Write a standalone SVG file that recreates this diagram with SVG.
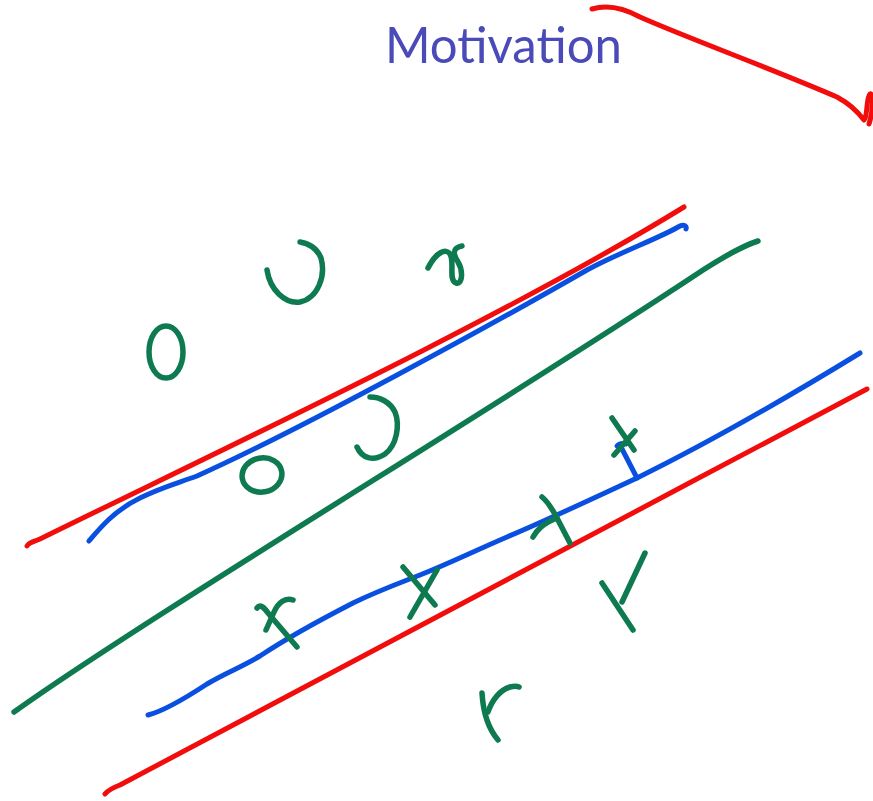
<svg xmlns="http://www.w3.org/2000/svg" width="873" height="801" viewBox="0 0 873 801">
<style>
.s{fill:none;stroke-linecap:round;stroke-linejoin:round}
.r{stroke:#f20d0d;stroke-width:5}
.b{stroke:#0a50e0;stroke-width:5}
.g{stroke:#0e7a50;stroke-width:5.5}
.t{font-family:"Lato","Liberation Sans",sans-serif;font-size:50px;fill:#4a4ab8}
</style>
<rect width="873" height="801" fill="#ffffff"/>
<g id="title"><text class="t" x="385" y="63" textLength="237" lengthAdjust="spacingAndGlyphs">Motivation</text></g>
<g id="strokes">
<path id="red-top" class="s r" d="M592,9 C605,5 620,6 640,17 C680,35 780,72 837,97 C850,104 858,112 864,120 C868,116 866,97 870,94 C874,92 873,112 869,124"/>
<path id="red-upper" class="s r" d="M27,546 C29,542 33,542 40,539 C200,460 500,320 684,207"/>
<path id="blue-upper" class="s b" d="M89,541 C100,528 115,510 140,498 C160,488 175,484 197,476 C300,430 500,320 587,270 C620,252 660,238 680,226 C684,224 687,226 686,229"/>
<path id="green-line" class="s g" d="M14,712 C150,615 500,405 703,270 C725,256 745,245 758,241"/>
<path id="blue-lower" class="s b" d="M148,715 C160,712 175,705 207,684 C225,673 240,668 260,656 C290,636 320,620 353,603 C380,590 400,583 420,575 C450,563 470,553 507,537 C540,523 590,500 637,478 C700,447 780,402 860,353"/>
<path id="red-lower" class="s r" d="M105,794 C108,790 112,788 120,785 C300,690 600,530 867,389"/>
<path id="blue-arrow" class="s b" d="M637,478 L621,447 M617,446 C620,443 623,443 626,444"/>
</g>
<g id="marks" class="s g">
<ellipse cx="166" cy="352" rx="17" ry="26"/>
<path d="M267,270 C270,290 285,304 300,302 C318,298 326,276 321,258 C317,248 308,243 300,242"/>
<path d="M428,268 C436,252 446,248 450,254 C455,262 448,280 456,283 C463,285 463,270 458,262 C453,254 452,248 462,246"/>
<ellipse cx="262" cy="475" rx="20" ry="17" transform="rotate(-10 262 475)"/>
<path d="M357,447 C362,458 373,462 385,454 C397,445 400,425 395,412 C390,402 380,397 370,397"/>
<path d="M257,608 C260,604 264,607 268,613 L297,647"/>
<path d="M293,600 C285,597 278,603 274,612 L266,630"/>
<path d="M403,567 L435,605"/>
<path d="M437,570 L410,617"/>
<path d="M542,497 C548,502 553,510 558,520 L570,543"/>
<path d="M533,537 C537,530 542,524 557,518"/>
<path d="M612,418 L634,450"/>
<path d="M614,455 L635,431"/>
<path d="M602,583 L633,630"/>
<path d="M645,553 L622,602"/>
<path d="M482,693 C483,710 487,727 498,740"/>
<path d="M488,712 C492,700 500,690 510,687 C514,686 517,686 519,687"/>
</g>
</svg>
